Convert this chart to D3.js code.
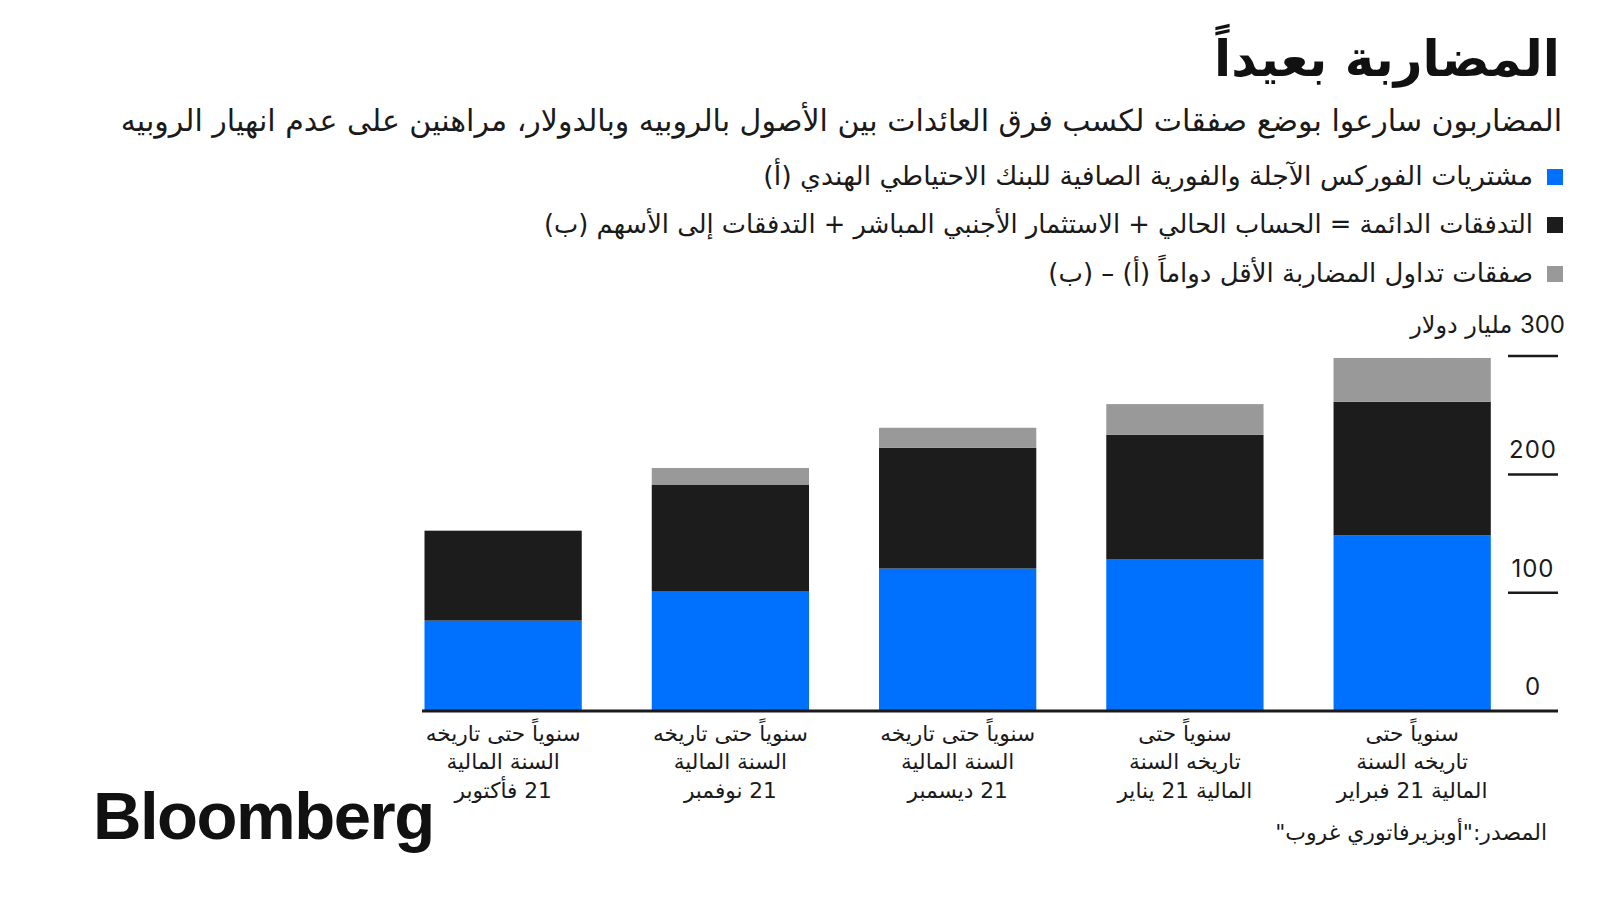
<!DOCTYPE html>
<html>
<head>
<meta charset="utf-8">
<script src="https://cdn.jsdelivr.net/npm/d3@7"></script>
<style>
  html, body { margin: 0; padding: 0; background: #ffffff; }
  svg { display: block; }
  .ar { font-family: "DejaVu Sans", sans-serif; }
</style>
</head>
<body>
<svg id="chart" width="1600" height="900"></svg>
<script>
// ---------- data ----------
const categoryLines = [
  ["سنوياً حتى تاريخه", "السنة المالية", "21 فأكتوبر"],
  ["سنوياً حتى تاريخه", "السنة المالية", "21 نوفمبر"],
  ["سنوياً حتى تاريخه", "السنة المالية", "21 ديسمبر"],
  ["سنوياً حتى", "تاريخه السنة", "المالية 21 يناير"],
  ["سنوياً حتى", "تاريخه السنة", "المالية 21 فبراير"]
];
const categories = categoryLines.map(l => l.join(" "));
const fxPurchases = [76, 101, 120, 128, 148];   // (أ) blue
const durableFlows = [76, 90, 102, 105, 113];   // (ب) black
const speculative  = [0, 14, 17, 26, 37];       // (أ) – (ب) gray
const yTicks = [0, 100, 200, 300];
const yUnit = "مليار دولار";

const seriesKeys = ["fx", "durable", "spec"];
const seriesNames = [
  "مشتريات الفوركس الآجلة والفورية الصافية للبنك الاحتياطي الهندي (أ)",
  "التدفقات الدائمة = الحساب الحالي + الاستثمار الأجنبي المباشر + التدفقات إلى الأسهم (ب)",
  "صفقات تداول المضاربة الأقل دواماً  (أ) – (ب)"
];
const seriesColors = ["#0070ff", "#1c1c1c", "#999999"];

const titleText = "المضاربة بعيداً";
const subtitleText = "المضاربون سارعوا بوضع صفقات لكسب فرق العائدات بين الأصول بالروبيه وبالدولار، مراهنين على عدم انهيار الروبيه";
const sourceText = "المصدر:\"أوبزيرفاتوري غروب\"";

// ---------- setup ----------
const svg = d3.select("#chart");
const color = d3.scaleOrdinal().domain(seriesKeys).range(seriesColors);

function fit(sel, targetWidth) {
  const node = sel.node();
  const size = parseFloat(sel.attr("font-size"));
  const w = node.getComputedTextLength();
  const ns = size * targetWidth / w;
  sel.attr("font-size", ns);
  return ns;
}

// ---------- title / subtitle ----------
const title = svg.append("text").attr("class", "ar")
  .attr("x", 1560).attr("y", 76)
  .attr("direction", "rtl").attr("text-anchor", "start")
  .attr("font-size", 50).attr("font-weight", 700).attr("fill", "#111")
  .text(titleText);
fit(title, 346);

const subtitle = svg.append("text").attr("class", "ar")
  .attr("x", 1562).attr("y", 131)
  .attr("direction", "rtl").attr("text-anchor", "start")
  .attr("font-size", 26).attr("fill", "#1a1a1a")
  .text(subtitleText);
fit(subtitle, 1442);

// ---------- legend ----------
const legendY = [185, 233, 282];
const legendWidths = [770, 989, 485];
const legend = svg.append("g");
seriesKeys.forEach((k, i) => {
  legend.append("rect")
    .attr("x", 1547).attr("y", legendY[i] - 16)
    .attr("width", 16).attr("height", 16)
    .attr("fill", color(k));
  const t = legend.append("text").attr("class", "ar")
    .attr("x", 1533).attr("y", legendY[i])
    .attr("direction", "rtl").attr("text-anchor", "start")
    .attr("font-size", 23).attr("fill", "#1a1a1a")
    .text(seriesNames[i]);
  fit(t, legendWidths[i]);
});

// ---------- scales ----------
const y = d3.scaleLinear().domain([0, 300]).range([710.5, 355.6]);
const x = d3.scaleBand().domain(categories).range([424.5, 1490.8])
  .paddingInner(0.308).paddingOuter(0);

const rows = categories.map((c, i) => ({
  cat: c, fx: fxPurchases[i], durable: durableFlows[i], spec: speculative[i]
}));
const stacked = d3.stack().keys(seriesKeys)(rows);

// ---------- bars ----------
svg.append("g").selectAll("g").data(stacked).join("g")
  .attr("fill", d => color(d.key))
  .selectAll("rect").data(d => d).join("rect")
  .attr("x", d => x(d.data.cat))
  .attr("width", x.bandwidth())
  .attr("y", d => y(d[1]))
  .attr("height", d => Math.max(0, y(d[0]) - y(d[1])));

// ---------- y axis ----------
const yAxis = svg.append("g").attr("transform", "translate(1508,0)")
  .call(d3.axisRight(y).tickValues(yTicks).tickSize(50).tickFormat(d3.format("d")));
yAxis.select(".domain").remove();
yAxis.selectAll(".tick line").attr("stroke", "#1a1a1a").attr("stroke-width", 2.5);
yAxis.selectAll(".tick text")
  .attr("x", 25).attr("dy", null).attr("y", -16)
  .attr("text-anchor", "middle")
  .attr("font-family", "Inter, sans-serif").attr("font-size", 24)
  .attr("letter-spacing", 1)
  .attr("fill", "#1a1a1a");
yAxis.selectAll(".tick").filter(d => d === 300).select("text").remove();
yAxis.selectAll(".tick").filter(d => d === 0).select("line").remove();
// top label with unit
const topTick = yAxis.selectAll(".tick").filter(d => d === 300);
const topLabel = topTick.append("text")
  .attr("x", 57).attr("y", -23)
  .attr("direction", "rtl").attr("text-anchor", "start")
  .attr("fill", "#1a1a1a");
topLabel.append("tspan").attr("font-family", "Inter, sans-serif").attr("font-size", 24)
  .attr("letter-spacing", 1).text("300");
topLabel.append("tspan").attr("font-family", "DejaVu Sans, sans-serif").attr("font-size", 24)
  .text(" " + yUnit);

// ---------- x axis ----------
svg.append("line")
  .attr("x1", 422).attr("x2", 1558)
  .attr("y1", y(0) + 0.5).attr("y2", y(0) + 0.5)
  .attr("stroke", "#1a1a1a").attr("stroke-width", 3);

const xAxis = svg.append("g").attr("transform", `translate(0,${y(0)})`)
  .call(d3.axisBottom(x).tickSize(0).tickFormat(() => ""));
xAxis.select(".domain").remove();
const xTexts = xAxis.selectAll(".tick text")
  .attr("class", "ar").attr("y", 0).attr("dy", null)
  .attr("direction", "rtl").attr("text-anchor", "middle")
  .attr("font-size", 21).attr("fill", "#1a1a1a");
xTexts.each(function(d, i) {
  const t = d3.select(this);
  categoryLines[i].forEach((line, j) => {
    t.append("tspan").attr("x", 0).attr("y", 30 + j * 28.5).text(line);
  });
});
// size x labels to match reference width of first line
{
  const probe = svg.append("text").attr("class", "ar").attr("font-size", 21)
    .text(categoryLines[0][0]);
  const s = fit(probe, 155);
  probe.remove();
  xTexts.attr("font-size", s);
}

// ---------- source ----------
const src = svg.append("text").attr("class", "ar")
  .attr("x", 1547).attr("y", 840)
  .attr("direction", "rtl").attr("text-anchor", "start")
  .attr("font-size", 21).attr("fill", "#1a1a1a")
  .text(sourceText);
fit(src, 272);

// ---------- Bloomberg logo ----------
const logo = svg.append("text")
  .attr("x", 93).attr("y", 839)
  .attr("font-family", "Liberation Sans, Arial, sans-serif")
  .attr("font-weight", 700).attr("font-size", 64)
  .attr("letter-spacing", -1.5)
  .attr("fill", "#111")
  .text("Bloomberg");
fit(logo, 340);
</script>
</body>
</html>
